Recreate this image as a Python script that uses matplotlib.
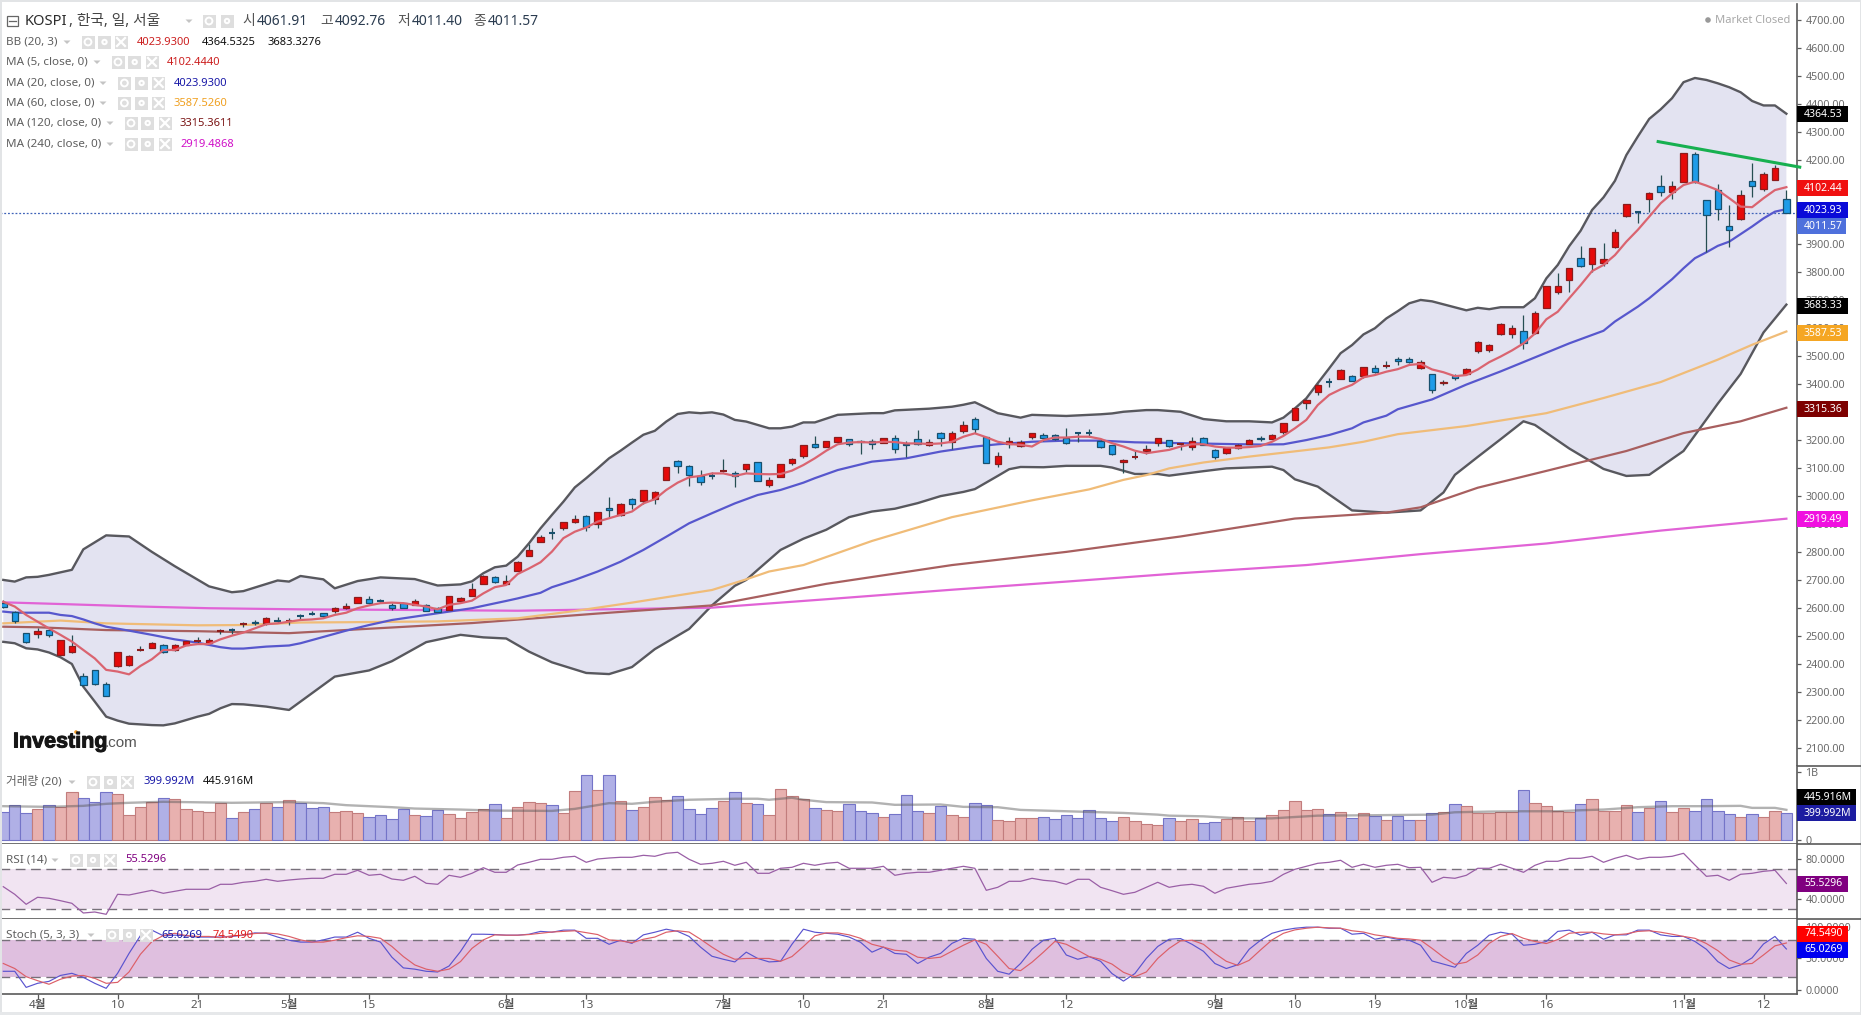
# -*- coding: utf-8 -*-
import matplotlib
matplotlib.use("Agg")
import matplotlib.pyplot as plt
import matplotlib.patheffects as pe
from matplotlib.patches import Rectangle, Polygon, Circle

plt.rcParams['font.family'] = ['Noto Sans', 'Noto Sans CJK KR', 'DejaVu Sans']

W, H = 1861, 1015
AXIS_X = 1797

# daily KOSPI candles
opens = [2618, 2588, 2511, 2507, 2521, 2434, 2445, 2357, 2378, 2329,
         2393, 2396, 2450, 2459, 2470, 2450, 2470, 2482, 2477, 2518,
         2521, 2544, 2552, 2546, 2557, 2552, 2575, 2579, 2584, 2591,
         2599, 2620, 2632, 2628, 2610, 2620, 2613, 2610, 2600, 2595,
         2627, 2645, 2688, 2710, 2688, 2734, 2788, 2838, 2869, 2885,
         2907, 2928, 2902, 2957, 2932, 2988, 2984, 2989, 3059, 3124,
         3106, 3073, 3072, 3087, 3081, 3097, 3121, 3041, 3070, 3119,
         3142, 3185, 3174, 3192, 3205, 3198, 3198, 3189, 3209, 3187,
         3205, 3181, 3226, 3192, 3231, 3274, 3210, 3114, 3185, 3180,
         3212, 3219, 3219, 3206, 3224, 3224, 3198, 3184, 3120, 3138,
         3161, 3191, 3199, 3184, 3174, 3206, 3164, 3153, 3173, 3187,
         3209, 3205, 3230, 3271, 3334, 3373, 3407, 3419, 3430, 3429,
         3458, 3462, 3488, 3490, 3458, 3436, 3402, 3428, 3437, 3518,
         3520, 3580, 3580, 3590, 3582, 3673, 3730, 3772, 3848, 3827,
         3833, 3890, 3998, 4014, 4061, 4106, 4084, 4122, 4220, 4056,
         4091, 3963, 3990, 4123, 4097, 4127, 4061.91]
highs = [2629, 2591, 2512, 2528, 2525, 2487, 2505, 2368, 2379, 2337,
         2444, 2432, 2465, 2478, 2471, 2471, 2484, 2496, 2492, 2526,
         2530, 2552, 2558, 2568, 2568, 2564, 2579, 2590, 2584, 2603,
         2618, 2641, 2642, 2633, 2618, 2621, 2632, 2615, 2603, 2643,
         2640, 2691, 2717, 2715, 2717, 2767, 2829, 2863, 2885, 2907,
         2932, 2933, 2945, 2996, 2977, 2992, 3022, 3017, 3103, 3128,
         3110, 3093, 3086, 3131, 3089, 3114, 3121, 3068, 3114, 3135,
         3181, 3215, 3198, 3212, 3205, 3200, 3203, 3209, 3217, 3198,
         3235, 3203, 3228, 3231, 3267, 3284, 3210, 3157, 3211, 3199,
         3224, 3226, 3221, 3243, 3224, 3238, 3205, 3184, 3131, 3162,
         3181, 3206, 3200, 3188, 3211, 3211, 3169, 3171, 3185, 3203,
         3215, 3221, 3260, 3316, 3347, 3399, 3422, 3453, 3432, 3462,
         3468, 3481, 3495, 3497, 3484, 3437, 3414, 3434, 3456, 3552,
         3542, 3616, 3610, 3646, 3659, 3750, 3796, 3813, 3893, 3884,
         3903, 3953, 4043, 4017, 4084, 4146, 4125, 4224, 4227, 4056,
         4114, 4039, 4092, 4189, 4155, 4182, 4092.76]
lows = [2602, 2549, 2477, 2495, 2499, 2433, 2439, 2323, 2327, 2285,
        2392, 2395, 2449, 2458, 2441, 2449, 2468, 2476, 2475, 2507,
        2507, 2533, 2541, 2541, 2546, 2541, 2560, 2577, 2569, 2584,
        2596, 2620, 2616, 2620, 2593, 2599, 2613, 2589, 2587, 2594,
        2626, 2644, 2687, 2691, 2685, 2733, 2788, 2836, 2848, 2880,
        2905, 2877, 2888, 2927, 2930, 2955, 2972, 2973, 3059, 3084,
        3036, 3041, 3060, 3087, 3033, 3086, 3053, 3033, 3069, 3111,
        3135, 3171, 3174, 3186, 3180, 3152, 3168, 3188, 3155, 3141,
        3184, 3180, 3180, 3168, 3226, 3224, 3117, 3104, 3173, 3177,
        3203, 3198, 3200, 3187, 3194, 3212, 3173, 3146, 3081, 3134,
        3150, 3180, 3175, 3166, 3166, 3181, 3134, 3152, 3169, 3186,
        3197, 3204, 3222, 3270, 3311, 3361, 3391, 3419, 3409, 3423,
        3438, 3456, 3467, 3474, 3452, 3368, 3395, 3415, 3432, 3512,
        3516, 3575, 3565, 3525, 3580, 3672, 3722, 3728, 3819, 3799,
        3822, 3885, 3997, 3975, 4014, 4072, 4061, 4122, 4117, 3870,
        3985, 3890, 3987, 4069, 4090, 4127, 4011.40]
closes = [2603, 2556, 2478, 2518, 2503, 2486, 2464, 2325, 2331, 2288,
          2443, 2428, 2453, 2475, 2445, 2468, 2482, 2487, 2487, 2522,
          2520, 2545, 2546, 2564, 2553, 2557, 2572, 2577, 2572, 2602,
          2607, 2639, 2618, 2623, 2599, 2600, 2625, 2591, 2588, 2642,
          2635, 2668, 2716, 2695, 2696, 2766, 2809, 2853, 2867, 2907,
          2917, 2891, 2945, 2949, 2971, 2973, 3021, 3014, 3103, 3106,
          3077, 3052, 3070, 3090, 3073, 3114, 3053, 3056, 3114, 3131,
          3181, 3174, 3198, 3212, 3185, 3192, 3185, 3209, 3167, 3181,
          3187, 3194, 3206, 3226, 3253, 3241, 3117, 3144, 3196, 3194,
          3224, 3209, 3204, 3189, 3223, 3223, 3174, 3149, 3128, 3141,
          3168, 3206, 3178, 3186, 3196, 3184, 3141, 3171, 3181, 3199,
          3203, 3217, 3260, 3313, 3343, 3395, 3405, 3449, 3412, 3460,
          3443, 3467, 3481, 3480, 3478, 3377, 3408, 3420, 3455, 3550,
          3540, 3614, 3600, 3545, 3655, 3749, 3750, 3813, 3822, 3884,
          3845, 3941, 4041, 4013, 4081, 4086, 4106, 4223, 4120, 4002,
          4026, 3951, 4073, 4105, 4148, 4170, 4011.57]

# Bollinger bands (20, 3)
bb_up_i = [0, 1, 2, 3, 4, 6, 7, 9, 11, 13, 15, 18, 20, 21, 24, 25, 26, 28, 29, 31, 33, 36, 38, 40, 41,
           42, 43, 44, 45, 46, 47, 48, 49, 50, 51, 52, 53, 54, 55, 56, 57, 58, 59, 60, 61, 62, 63, 64,
           65, 66, 67, 68, 69, 70, 71, 73, 76, 77, 78, 81, 83, 84, 85, 87, 89, 90, 93, 96, 97, 98, 100,
           101, 103, 105, 107, 109, 111, 112, 113, 114, 115, 116, 117, 118, 119, 120, 121, 122, 123,
           124, 125, 128, 129, 130, 131, 133, 134, 135, 136, 137, 138, 139, 140, 141, 142, 143, 144,
           145, 146, 147, 148, 149, 150, 151, 152, 153, 154, 155, 156]
bb_up = [2701, 2695, 2710, 2712, 2719, 2737, 2810, 2860, 2856, 2801, 2750, 2678, 2657, 2661, 2699, 2695, 2715, 2703, 2671, 2697, 2710, 2704, 2681, 2685, 2696,
         2725, 2746, 2752, 2784, 2832, 2885, 2933, 2980, 3031, 3064, 3099, 3135, 3162, 3191, 3219, 3233, 3266, 3293, 3299, 3296, 3299, 3291, 3272,
         3266, 3254, 3242, 3242, 3248, 3263, 3263, 3290, 3296, 3296, 3306, 3312, 3319, 3326, 3335, 3296, 3280, 3290, 3286, 3292, 3295, 3301, 3307,
         3307, 3301, 3275, 3267, 3267, 3263, 3280, 3313, 3349, 3403, 3456, 3510, 3539, 3577, 3599, 3634, 3660, 3688,
         3700, 3695, 3663, 3672, 3667, 3674, 3674, 3706, 3777, 3825, 3892, 3947, 4021, 4066, 4125, 4217, 4283, 4346,
         4380, 4420, 4477, 4492, 4485, 4473, 4459, 4441, 4410, 4394, 4394, 4364.53]
bb_low_i = [0, 1, 2, 3, 4, 5, 6, 7, 8, 9, 10, 11, 13, 14, 15, 17, 18, 19, 20, 21, 23, 25, 29, 32, 34, 37, 40, 42, 44, 46,
            48, 51, 53, 55, 57, 60, 62, 64, 65, 66, 68, 70, 72, 74, 76, 78, 80, 82, 84, 85, 87, 88, 89, 91, 93, 96, 97,
            99, 101, 102, 105, 107, 111, 112, 113, 115, 118, 121, 124, 126, 127, 129, 131, 133, 134, 137, 140, 142, 144,
            147, 150, 152, 154, 156]
bb_low = [2480, 2475, 2457, 2453, 2442, 2425, 2401, 2320, 2267, 2213, 2199, 2188, 2183, 2182, 2189, 2213, 2223, 2243, 2258, 2257, 2249, 2237, 2356, 2378, 2411, 2479, 2505, 2496, 2492, 2445,
          2407, 2369, 2365, 2390, 2454, 2526, 2610, 2680, 2701, 2737, 2808, 2848, 2880, 2925, 2945, 2955, 2975, 3000, 3015, 3025, 3072, 3096, 3104, 3103, 3108, 3108, 3102,
          3079, 3079, 3073, 3089, 3099, 3105, 3093, 3060, 3034, 2949, 2941, 2949, 3013, 3076, 3140, 3203, 3267, 3254, 3170, 3097, 3072, 3076,
          3161, 3330, 3436, 3584, 3683.33]

# moving averages
ma5 = [2623, 2606, 2576, 2552, 2528, 2505, 2481, 2451, 2421, 2380,
       2374, 2364, 2394, 2418, 2451, 2451, 2467, 2472, 2472, 2489,
       2502, 2513, 2528, 2543, 2546, 2552, 2558, 2560, 2564, 2576,
       2584, 2600, 2610, 2618, 2620, 2618, 2612, 2606, 2596, 2612,
       2618, 2627, 2653, 2675, 2683, 2722, 2742, 2764, 2802, 2850,
       2873, 2888, 2909, 2921, 2933, 2945, 2974, 2989, 3022, 3048,
       3067, 3072, 3081, 3081, 3072, 3081, 3079, 3078, 3079, 3091,
       3111, 3135, 3162, 3185, 3191, 3193, 3191, 3194, 3193, 3188,
       3188, 3186, 3188, 3194, 3212, 3224, 3210, 3194, 3186, 3183,
       3177, 3200, 3209, 3209, 3212, 3212, 3204, 3189, 3177, 3162,
       3153, 3159, 3165, 3177, 3185, 3185, 3177, 3173, 3173, 3175,
       3179, 3194, 3215, 3242, 3272, 3325, 3361, 3381, 3397, 3424,
       3432, 3444, 3453, 3468, 3472, 3452, 3442, 3428, 3432, 3452,
       3478, 3498, 3520, 3545, 3580, 3631, 3658, 3706, 3753, 3803,
       3825, 3860, 3908, 3950, 3997, 4045, 4080, 4110, 4122, 4108,
       4092, 4063, 4033, 4031, 4063, 4092, 4102.44]
ma20_i = [0, 1, 4, 5, 6, 7, 8, 9, 11, 13, 15, 17, 18, 19, 20, 21, 23, 25, 26, 30, 32, 34, 38, 41, 44, 45, 47, 48, 50, 52, 54, 56, 58, 60, 62,
          64, 66, 68, 70, 71, 73, 76, 79, 82, 85, 87, 90, 93, 96, 99, 103, 107, 110, 112, 114, 116, 118, 119, 121, 122, 125, 128,
          131, 134, 137, 140, 141, 143, 144, 146, 147, 148, 149, 150, 151, 152, 153, 154, 155, 156]
ma20 = [2588, 2584, 2584, 2576, 2572, 2560, 2546, 2534, 2520, 2505, 2489, 2477, 2469, 2461, 2456, 2456, 2463, 2467, 2475, 2520, 2540, 2558, 2582, 2600, 2626, 2635, 2655, 2675, 2701, 2731, 2766, 2808, 2855, 2903, 2939,
        2974, 3004, 3022, 3048, 3064, 3093, 3123, 3135, 3159, 3177, 3185, 3194, 3198, 3198, 3192, 3189, 3186, 3184, 3185, 3200, 3218, 3242, 3263, 3287, 3310, 3345, 3398,
        3445, 3495, 3545, 3590, 3623, 3676, 3706, 3774, 3813, 3849, 3870, 3893, 3908, 3935, 3962, 3991, 4015, 4023.93]
ma60_i = [0, 5, 9, 17, 21, 26, 30, 38, 45, 50, 55, 62, 65, 67, 70, 76, 83, 90, 95, 98, 100, 102, 105, 109, 112, 116, 119, 122, 128, 135, 140, 145, 150, 153, 156]
ma60 = [2546, 2556, 2546, 2539, 2540, 2549, 2550, 2553, 2564, 2590, 2620, 2665, 2703, 2731, 2754, 2840, 2925, 2985, 3024, 3058, 3075, 3099, 3120, 3141, 3155, 3174, 3194, 3221, 3250, 3296, 3350, 3407, 3487, 3540, 3587.53]
ma120_i = [0, 3, 9, 17, 25, 41, 52, 62, 72, 83, 93, 103, 113, 121, 124, 129, 135, 142, 147, 152, 156]
ma120 = [2534, 2532, 2522, 2518, 2511, 2547, 2581, 2610, 2687, 2754, 2801, 2856, 2920, 2941, 2960, 3030, 3090, 3161, 3225, 3267, 3315.36]
ma240_i = [0, 5, 12, 18, 26, 35, 45, 62, 72, 83, 93, 103, 114, 124, 135, 145, 156]
ma240 = [2621, 2615, 2606, 2600, 2596, 2594, 2591, 2602, 2632, 2666, 2695, 2725, 2754, 2793, 2831, 2877, 2919.49]

# hand-drawn trend line, from/to candle index
trend_i = [144.65, 157.3]
trend_v = [4266, 4173]

# volume, in millions
volume = [420, 520, 400, 460, 520, 490, 715, 625, 565, 715,
          685, 370, 490, 565, 625, 610, 460, 430, 420, 550,
          325, 415, 460, 550, 490, 595, 550, 475, 490, 415,
          430, 400, 340, 370, 310, 460, 370, 355, 445, 385,
          325, 415, 460, 535, 325, 490, 565, 550, 520, 400,
          730, 955, 745, 955, 580, 445, 490, 640, 595, 655,
          460, 385, 475, 580, 715, 550, 535, 370, 760, 655,
          610, 475, 445, 430, 535, 430, 400, 340, 385, 670,
          430, 400, 505, 370, 340, 550, 520, 295, 280, 325,
          325, 340, 310, 370, 325, 445, 325, 280, 340, 280,
          235, 220, 325, 280, 310, 250, 265, 310, 340, 280,
          325, 370, 445, 580, 445, 460, 385, 415, 325, 400,
          355, 295, 355, 295, 295, 400, 415, 535, 505, 400,
          400, 415, 415, 745, 550, 505, 430, 415, 535, 610,
          430, 430, 520, 415, 475, 580, 415, 475, 430, 610,
          430, 385, 340, 385, 340, 430, 399.992]
vol_ma_i = [0, 4, 7, 9, 11, 14, 16, 20, 25, 28, 30, 34, 36, 40, 43, 48, 50, 53, 55, 57, 60, 64, 66, 67, 69, 70, 72, 76, 78, 82, 84, 87, 89, 93, 95,
            98, 101, 102, 105, 108, 111, 115, 119, 125, 127, 130, 133, 136, 138, 140, 143, 146, 149, 152, 153, 155, 156]
vol_ma = [500, 490, 505, 535, 550, 565, 560, 550, 560, 545, 515, 485, 465, 450, 435, 430, 460, 545, 535, 565, 595, 610, 610, 595, 625, 595, 560, 555, 520, 525, 490, 485, 445, 425, 415,
          400, 375, 360, 350, 320, 320, 360, 365, 375, 410, 420, 425, 425, 440, 450, 485, 500, 500, 505, 475, 475, 445.916]

rsi = [52.3, 44.7, 34.7, 41.7, 40.7, 38.3, 35.7, 26, 27, 24.7,
       44.7, 44, 46.3, 48.7, 45.7, 47.7, 49.7, 49.7, 49.7, 54.7,
       54.7, 56.7, 57.7, 59.7, 57.7, 59, 60, 60.7, 60.7, 64.7,
       64.7, 68.7, 63.7, 64.7, 60, 58.7, 62.7, 55.7, 54.7, 63.7,
       61.7, 65.7, 71.3, 66.7, 66.7, 74, 76.7, 79.7, 79.7, 81.7,
       82.7, 76.7, 80, 81, 81.7, 81.7, 83.7, 82.7, 85.7, 86.7,
       79.7, 74.7, 75.7, 77.7, 73.7, 76.7, 65.7, 65.7, 70.7, 71.7,
       75.7, 73.7, 75.7, 76.7, 70.7, 70.7, 70.7, 72.7, 63.7, 65.7,
       66.7, 66.7, 68.7, 70.7, 72.7, 70.7, 48.7, 51.7, 57.7, 57.7,
       60.7, 58.7, 57.7, 54.7, 59.7, 59.7, 51.7, 48.3, 44.7, 46.7,
       51.7, 56.7, 51.7, 53.7, 54.7, 52.7, 45.7, 50.7, 52.7, 54.7,
       55.7, 57.7, 64.7, 69.7, 72.7, 75.7, 76.7, 78.7, 71.7, 74.7,
       71.7, 73.7, 74.7, 71.3, 71.7, 56.7, 61.7, 60.7, 63.7, 70.7,
       70.7, 74.7, 70.7, 66.7, 73.7, 77.7, 77.7, 80.7, 80.7, 82.7,
       76.7, 80.7, 83.7, 79.7, 81.7, 81.7, 82.7, 85.7, 74, 62.7,
       63.7, 58.7, 64.7, 65.7, 67.7, 68.7, 55.5296]

stoch_k = [29.6, 29.6, 4, 10.5, 13.6, 23, 26.4, 20, 10.5, 2.5,
           26.4, 58, 86.4, 95, 86, 87, 86, 84, 84, 84,
           85, 87, 90.6, 90, 84, 79, 76, 76, 79.5, 84,
           84, 91.7, 82, 76, 52, 35, 33, 29.6, 28.5, 38,
           61, 88.5, 88.5, 88, 87, 87, 88.5, 93, 91.7, 95,
           95, 82, 82, 72.5, 79, 74, 87.5, 91.7, 96.5, 93,
           85, 68, 53.5, 48.7, 44.5, 60, 50, 44.5, 45.5, 72.5,
           96.5, 91.7, 90, 88.5, 84, 75.7, 60, 68, 58, 56.6,
           42, 52, 58, 74, 82, 80.5, 50, 29.6, 25, 42,
           64.6, 79, 82, 55.5, 48.7, 53, 45.5, 26, 14, 26,
           50, 69, 80.5, 81.6, 72.5, 61.4, 42, 34, 40, 64.6,
           79, 90, 95, 98, 99.7, 99.7, 98, 98, 88.5, 90,
           80.5, 84, 80.5, 79, 71, 46, 41, 36, 58, 71,
           87, 91.7, 88.5, 71, 72.5, 77, 93, 95, 87, 91.7,
           80.5, 87.5, 87.5, 95, 95, 87.5, 85, 85, 77, 64.6,
           45, 34, 39.7, 51, 73, 85, 65.0269]
stoch_d = [42, 34, 21, 14.7, 9, 17, 22, 23, 18.4, 10.5,
           12, 28.5, 56.7, 76.8, 86.4, 90, 86.4, 85, 85, 83,
           86, 87, 89.6, 90.6, 89, 85, 79.5, 76, 76, 79,
           83, 86, 85, 82, 69, 53, 39.7, 33, 29.6, 33,
           45, 66, 79.5, 87.5, 87, 87, 88, 90, 92, 93,
           94, 91, 88, 79.5, 78, 75, 80.5, 84, 91.7, 94,
           92, 80.5, 68, 56.6, 48.7, 50, 50, 50, 45.5, 53,
           69, 86, 90.6, 90.6, 87.5, 82, 72.5, 68, 63, 61.5,
           52, 50, 52, 61.5, 71, 79.5, 72.5, 53.5, 34, 30.6,
           44, 60, 77, 72.5, 63, 53, 48.7, 41, 28, 21,
           28.5, 50, 66, 78, 79, 72.5, 58, 45.5, 39, 47,
           63.6, 79.5, 90, 95.4, 98, 99.7, 98.6, 98, 94, 92,
           87.5, 85, 82, 81, 79, 66, 52, 40.6, 44, 55.6,
           74, 85, 89.6, 82, 77, 73.7, 80, 90, 91.7, 91.7,
           89, 87.5, 89, 93, 94, 91.7, 88.5, 85, 82, 73.7,
           62.5, 47.6, 40.7, 42, 55.6, 70, 74.549]

xtick_pos = [3, 10, 17, 25, 32, 44, 51, 63, 70, 77, 86, 93, 106, 113, 120, 128, 135, 147, 154]
xtick_labels = ['4월', '10', '21', '5월', '15', '6월', '13', '7월', '10', '21', '8월', '12',
                '9월', '10', '19', '10월', '16', '11월', '12']

main_ticks = list(range(2100, 4800, 100))
RED_BODY, RED_EDGE = '#e60a0a', '#8c1c1c'
BLUE_BODY, BLUE_EDGE = '#1e9ce8', '#17506e'
WICK = '#264e52'
GREY_TXT = '#5f5f5f'
AXIS_COL = '#5a5a5a'


def x_lim():
    # candle 0 sits 3.3 px from the left edge, candles are 11.43 px apart
    return (0 - 3.3) / 11.43, (AXIS_X - 3.3) / 11.43


def make_pane(fig, top, bottom, ylim):
    ax = fig.add_axes([0, 1 - bottom / H, AXIS_X / W, (bottom - top) / H])
    ax.set_xlim(*x_lim())
    ax.set_ylim(*ylim)
    ax.yaxis.tick_right()
    ax.set_xticks([])
    for s in ['left', 'top']:
        ax.spines[s].set_visible(False)
    for s in ['right', 'bottom']:
        ax.spines[s].set_color(AXIS_COL)
        ax.spines[s].set_linewidth(1.2)
    ax.tick_params(axis='y', length=3, width=0.9, color=AXIS_COL, labelcolor='#6a6a6a',
                   labelsize=7.7, pad=3)
    return ax


def flag(ov, y, text, color, width=51):
    ov.add_patch(Rectangle((AXIS_X, y - 8), width, 16, facecolor=color, edgecolor='none', zorder=5))
    ov.text(AXIS_X + 7, y, text, color='white', fontsize=7.5, fontweight='bold', va='center', ha='left', zorder=6)


def buttons(ov, xs, y):
    # eye, gear and close buttons of the legend rows
    glyphs = ['eye', 'gear', 'close']
    if len(xs) == 2:
        glyphs = ['eye', 'gear']
    for x, g in zip(xs, glyphs):
        ov.add_patch(Rectangle((x - 6.5, y - 6.5), 13, 13, facecolor='#dedede', edgecolor='none'))
        if g == 'eye':
            ov.add_patch(Circle((x, y), 3.4, facecolor='none', edgecolor='white', linewidth=1.4))
        elif g == 'gear':
            ov.add_patch(Circle((x, y), 3.2, facecolor='white', edgecolor='none'))
            ov.add_patch(Circle((x, y), 1.1, facecolor='#dedede', edgecolor='none'))
        else:
            ov.plot([x - 4, x + 4], [y - 4, y + 4], color='white', lw=1.6)
            ov.plot([x - 4, x + 4], [y + 4, y - 4], color='white', lw=1.6)


def arrow(ov, x, y):
    ov.add_patch(Polygon([(x - 3.5, y - 1.5), (x + 3.5, y - 1.5), (x, y + 2)], facecolor='#c4c4c4', edgecolor='none'))


def draw_candles(ax):
    idx = range(len(closes))
    ax.vlines(idx, lows, highs, color=WICK, lw=0.9, zorder=4)
    for i in idx:
        up = closes[i] >= opens[i]
        lo = min(opens[i], closes[i])
        hi = max(opens[i], closes[i])
        if hi - lo < 6:
            # hairline body, only the edge is visible
            ax.plot([i - 0.28, i + 0.28], [(hi + lo) / 2] * 2, color=RED_EDGE if up else BLUE_EDGE,
                    lw=1.5, zorder=5, solid_capstyle='butt')
        else:
            ax.bar(i, hi - lo, bottom=lo, width=0.56, color=RED_BODY if up else BLUE_BODY,
                   edgecolor=RED_EDGE if up else BLUE_EDGE, linewidth=0.9, zorder=5)


def main():
    fig = plt.figure(figsize=(W / 100, H / 100), dpi=100, facecolor='white')

    # price pane
    ax = make_pane(fig, 4, 766, (2037, 4756))
    ax.set_yticks(main_ticks)
    ax.set_yticklabels(['%.2f' % t for t in main_ticks])
    ax.spines['bottom'].set_visible(False)

    band_x = bb_up_i + bb_low_i[::-1]
    band_y = bb_up + bb_low[::-1]
    ax.fill(band_x, band_y, color='#e3e3f1', lw=0, zorder=1)
    ax.axhline(closes[-1], color='#3f62b8', ls=(0, (1.5, 1.5)), lw=0.9, zorder=2)
    ax.plot(bb_up_i, bb_up, color='#58585e', lw=1.7, zorder=3)
    ax.plot(bb_low_i, bb_low, color='#58585e', lw=1.7, zorder=3)
    ax.plot(ma240_i, ma240, color='#e163d6', lw=1.6, zorder=3)
    ax.plot(ma120_i, ma120, color='#a85f5f', lw=1.6, zorder=3)
    ax.plot(ma60_i, ma60, color='#f0bc78', lw=1.6, zorder=3)
    ax.plot(ma20_i, ma20, color='#5757cd', lw=1.6, zorder=3)
    ax.plot(range(len(ma5)), ma5, color='#da6470', lw=1.6, zorder=6)
    draw_candles(ax)
    ax.plot(trend_i, trend_v, color='#17b050', lw=2.2, zorder=7, clip_on=False, solid_capstyle='butt')

    # volume pane
    vol_ax = make_pane(fig, 766, 844, (-59, 1094))
    vol_ax.set_yticks([0, 1000])
    vol_ax.set_yticklabels(['0', '1B'])
    for i, v in enumerate(volume):
        up = closes[i] >= opens[i]
        vol_ax.bar(i, v, width=1.0, color='#e8b1af' if up else '#b0b0e6',
                   edgecolor='#c27d7d' if up else '#7474c8', linewidth=0.8, zorder=2)
    vol_ax.plot(vol_ma_i, vol_ma, color='#555555', alpha=0.45, lw=1.7, zorder=3)

    # RSI pane
    rsi_ax = make_pane(fig, 844, 919, (20, 95))
    rsi_ax.set_yticks([40, 80])
    rsi_ax.set_yticklabels(['40.0000', '80.0000'])
    rsi_ax.axhspan(30, 70, color='#f1e4f2', lw=0, zorder=1)
    rsi_ax.hlines([30, 70], x_lim()[0], x_lim()[1], color='#77707a', lw=1.0, linestyles=(0, (7, 4)), zorder=2)
    rsi_ax.plot(range(len(rsi)), rsi, color='#9a5fa6', lw=0.9, zorder=3)

    # stochastic pane
    st_ax = make_pane(fig, 919, 994, (-6.5, 112.7))
    st_ax.set_yticks([0, 50, 100])
    st_ax.set_yticklabels(['0.0000', '50.0000', '100.0000'])
    st_ax.axhspan(20, 80, color='#dfbfdf', lw=0, zorder=1)
    st_ax.hlines([20, 80], x_lim()[0], x_lim()[1], color='#77707a', lw=1.0, linestyles=(0, (7, 4)), zorder=2)
    st_ax.plot(range(len(stoch_k)), stoch_k, color='#5a54cf', lw=0.85, zorder=3)
    st_ax.plot(range(len(stoch_d)), stoch_d, color='#dc5f68', lw=0.85, zorder=4)
    st_ax.set_xticks(xtick_pos)
    st_ax.set_xticklabels(xtick_labels)
    st_ax.tick_params(axis='x', length=3.5, width=0.9, color=AXIS_COL, labelcolor='#555555', labelsize=8.4, pad=0.5)
    for lab in st_ax.get_xticklabels():
        if lab.get_text().endswith('월'):
            lab.set_fontweight('bold')

    # everything below is placed in figure pixels
    ov = fig.add_axes([0, 0, 1, 1], zorder=10)
    ov.set_xlim(0, W)
    ov.set_ylim(H, 0)
    ov.axis('off')
    ov.patch.set_alpha(0)

    # outer frame of the widget and the pane separators in the axis column
    ov.add_patch(Rectangle((0, 0), 2, H, facecolor='#e2e4e6', edgecolor='none'))
    ov.add_patch(Rectangle((0, 0), W, 2, facecolor='#e2e4e6', edgecolor='none'))
    ov.add_patch(Rectangle((0, 1012), W, 3, facecolor='#e6e8ea', edgecolor='none'))
    ov.add_patch(Rectangle((W - 1, 0), 1, H, facecolor='#e2e4e6', edgecolor='none'))
    ov.hlines([766, 844, 919], AXIS_X, W, color=AXIS_COL, lw=1.2, zorder=1)

    flag(ov, 114, '4364.53', '#000000')
    flag(ov, 188, '4102.44', '#f01010')
    flag(ov, 210, '4023.93', '#0a0ad8')
    flag(ov, 226, '4011.57', '#4e70dc', 49)
    flag(ov, 306, '3683.33', '#000000')
    flag(ov, 333, '3587.53', '#f5a623')
    flag(ov, 409, '3315.36', '#7d0000')
    flag(ov, 519, '2919.49', '#f010e0')
    flag(ov, 797, '445.916M', '#000000', 59)
    flag(ov, 813, '399.992M', '#1c1ca0', 59)
    flag(ov, 884, '55.5296', '#800080')
    flag(ov, 934, '74.5490', '#ff0000')
    flag(ov, 950, '65.0269', '#0000f0')

    # header row
    ov.add_patch(Rectangle((7, 16), 11, 10, facecolor='none', edgecolor='#666666', lw=0.9))
    ov.plot([9, 16], [21, 21], color='#666666', lw=0.9)
    ov.text(25, 21, 'KOSPI', fontsize=10.6, color='#2c2c2c', fontweight='medium', va='center')
    ov.text(69, 21, ', 한국, 일, 서울', fontsize=10.6, color='#444444', va='center')
    arrow(ov, 189, 21)
    buttons(ov, [209, 227], 21)
    for x, lab, val in [(242, '시', '4061.91'), (320, '고', '4092.76'), (397, '저', '4011.40'), (473, '종', '4011.57')]:
        ov.text(x, 21, lab, fontsize=10, color='#555555', va='center')
        ov.text(x + 15, 21, val, fontsize=10, color='#2b3c50', va='center')

    rows = [
        (42, 'BB (20, 3)', 67, [88, 104.5, 121], [(137, '4023.9300', '#cc2020'), (202, '4364.5325', '#111111'), (267, '3683.3276', '#111111')]),
        (62, 'MA (5, close, 0)', 97, [118, 134.7, 152], [(167, '4102.4440', '#cc2020')]),
        (83, 'MA (20, close, 0)', 103, [124.4, 141.6, 158.8], [(174, '4023.9300', '#1a1aa8')]),
        (103, 'MA (60, close, 0)', 103, [124.4, 141.6, 158.8], [(174, '3587.5260', '#f0a020')]),
        (123, 'MA (120, close, 0)', 110, [131, 147.7, 165], [(180, '3315.3611', '#7a1414')]),
        (144, 'MA (240, close, 0)', 110, [131, 147.7, 165], [(180, '2919.4868', '#d010c8')]),
    ]
    for y, name, arrow_x, btns, vals in rows:
        ov.text(6, y, name, fontsize=8.4, color=GREY_TXT, va='center')
        arrow(ov, arrow_x, y)
        buttons(ov, btns, y)
        for x, txt, col in vals:
            ov.text(x, y, txt, fontsize=8.0, color=col, va='center')

    # sub-pane legends
    ov.text(6, 782, '거래량 (20)', fontsize=8.4, color=GREY_TXT, va='center')
    arrow(ov, 72, 782)
    buttons(ov, [93, 110, 127], 782)
    ov.text(143, 782, '399.992M', fontsize=8.0, color='#1a1aa8', va='center')
    ov.text(203, 782, '445.916M', fontsize=8.0, color='#111111', va='center')

    ov.text(6, 860, 'RSI (14)', fontsize=8.4, color=GREY_TXT, va='center')
    arrow(ov, 55, 860)
    buttons(ov, [76, 93, 110], 860)
    ov.text(125, 860, '55.5296', fontsize=8.0, color='#800080', va='center')

    ov.text(6, 935, 'Stoch (5, 3, 3)', fontsize=8.4, color=GREY_TXT, va='center')
    arrow(ov, 91, 935)
    buttons(ov, [112, 129, 146], 935)
    ov.text(161, 935, '65.0269', fontsize=8.0, color='#1a1aa8', va='center')
    ov.text(213, 935, '74.5490', fontsize=8.0, color='#e02020', va='center')

    # market status
    ov.add_patch(Circle((1708, 20), 2.8, facecolor='#999999', edgecolor='none'))
    ov.text(1715, 20, 'Market Closed', fontsize=8.0, color='#a8a8a8', va='center')

    # logo
    logo = ov.text(13, 742, 'Investing', fontsize=15.5, fontweight='bold', color='#161616', va='center',
                   family='Liberation Sans')
    logo.set_path_effects([pe.withStroke(linewidth=0.7, foreground='#161616')])
    ov.text(105, 743, '.com', fontsize=11, color='#555555', va='center', family='Liberation Sans')
    ov.add_patch(Circle((76, 732), 1.8, facecolor='#f0a030', edgecolor='none'))

    fig.savefig('out.png', dpi=100)


if __name__ == "__main__":
    main()
